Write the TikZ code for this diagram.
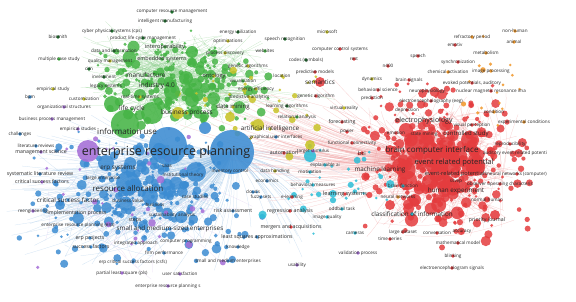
\documentclass[tikz,border=0pt]{standalone}
\usepackage{fontspec}
\setmainfont{Open Sans}
\definecolor{vgreen}{RGB}{70,180,70}
\definecolor{vdgreen}{RGB}{30,110,45}
\definecolor{vblue}{RGB}{60,140,210}
\definecolor{vred}{RGB}{228,60,62}
\definecolor{vpurple}{RGB}{165,110,215}
\definecolor{vyellow}{RGB}{200,195,40}
\definecolor{vcyan}{RGB}{45,190,215}
\definecolor{vorange}{RGB}{240,150,40}
\tikzset{
 bub/.style={circle, inner sep=0pt, fill opacity=0.88, draw=none},
 lab/.style={inner sep=0pt, text=black!85},
 gE/.style={draw=vgreen!60, line width=0.25pt, opacity=0.5},
 bE/.style={draw=vblue!55, line width=0.25pt, opacity=0.45},
 rE/.style={draw=vred!55, line width=0.25pt, opacity=0.45},
 pE/.style={draw=vpurple!50, line width=0.25pt, opacity=0.4},
}
% random bubbles: count, cx, cy, sx, sy, colour, extra radius
\newcommand\vbubbles[7]{%
 \foreach \k in {1,...,#1}{%
  \pgfmathsetmacro\qax{#2+(rand+rand)*#4/2}%
  \pgfmathsetmacro\qay{#3+(rand+rand)*#5/2}%
  \pgfmathsetmacro\qr{1.3+#7*rnd*rnd}%
  \fill[#6, fill opacity=0.85] (\qax,\qay) circle (\qr pt);
 }}
% random edges inside a cluster: count, cx, cy, sx, sy, style
\newcommand\vedges[6]{%
 \foreach \k in {1,...,#1}{%
  \pgfmathsetmacro\qax{#2+(rand+rand)*#4/2}%
  \pgfmathsetmacro\qay{#3+(rand+rand)*#5/2}%
  \pgfmathsetmacro\qbx{#2+(rand+rand)*#4/2}%
  \pgfmathsetmacro\qby{#3+(rand+rand)*#5/2}%
  \draw[#6] (\qax,\qay) to[bend left=12] (\qbx,\qby);
 }}
% rays from a hub: count, hub, cx, cy, sx, sy, style
\newcommand\vrays[7]{%
 \foreach \k in {1,...,#1}{%
  \pgfmathsetmacro\qbx{#3+(rand+rand)*#5/2}%
  \pgfmathsetmacro\qby{#4+(rand+rand)*#6/2}%
  \draw[#7] (#2) to[bend left=10] (\qbx,\qby);
 }}
\newcommand\vbub[5]{\node[bub, fill=#4, minimum size=#5pt] (#1) at (#2,#3) {};}
\newcommand\vlab[6]{%
 \fill[#5] (#2,#3) circle (1.8pt);
 \node[lab, font=\fontsize{#4}{#4}\selectfont] (#1) at (#2,#3) {#6};}
\begin{document}
\begin{tikzpicture}[x=1pt,y=-1pt]
\fill[white] (0,0) rectangle (576,302);
\useasboundingbox (0,0) rectangle (576,302);
\pgfmathsetseed{7}
% hubs
\coordinate (hB1) at (232,152);
\coordinate (hB2) at (168,146);
\coordinate (hG1) at (150,100);
\coordinate (hG2) at (185,75);
\coordinate (hR1) at (430,155);
\coordinate (hR2) at (446,165);
% edges
\vedges{260}{175}{78}{105}{55}{gE}
\vrays{60}{hG2}{160}{70}{100}{55}{gE}
\vrays{150}{hB1}{130}{200}{135}{80}{bE}
\vrays{110}{hB2}{110}{190}{115}{85}{bE}
\vrays{35}{hB1}{300}{200}{80}{60}{bE}
\vedges{90}{130}{200}{110}{70}{bE}
\vedges{40}{140}{210}{120}{80}{pE}
\vedges{320}{440}{165}{85}{75}{rE}
\vrays{80}{hR1}{290}{150}{90}{75}{rE}
\vrays{35}{hR2}{250}{130}{80}{50}{rE}
\vrays{25}{hG1}{260}{100}{80}{40}{gE}
\draw[rE] (hB1) to[bend left=25] (hR1);
\draw[rE] (hG1) to[bend left=20] (hR1);
\draw[bE] (hB2) to[bend right=10] (hG1);
% random bubbles
\vbubbles{190}{180}{80}{100}{52}{vgreen}{6}
\vbubbles{200}{140}{195}{125}{78}{vblue}{5.5}
\vbubbles{70}{150}{185}{70}{45}{vblue}{7}
\vbubbles{260}{445}{160}{95}{90}{vred}{5.5}
\vbubbles{130}{440}{165}{50}{50}{vred}{9}
\vbubbles{35}{130}{200}{120}{90}{vpurple}{3.5}
\vbubbles{30}{255}{100}{100}{60}{vyellow}{3.5}
\vbubbles{30}{330}{190}{80}{50}{vcyan}{3.5}
\vbubbles{16}{490}{80}{50}{60}{vorange}{2.5}
% large bubbles
\vbub{Bb1}{232}{152}{vblue}{44}
\vbub{Bb2}{168}{146}{vblue}{38}
\vbub{Bb3}{128}{183}{vblue}{24}
\vbub{Bb4}{196}{172}{vblue}{20}
\vbub{Bb5}{106}{163}{vblue}{16}
\vbub{Bb6}{150}{196}{vblue}{16}
\vbub{Bb7}{205}{128}{vblue}{12}
\vbub{Bb8}{60}{205}{vblue}{10}
\vbub{Gb1}{125}{124}{vgreen}{28}
\vbub{Gb2}{152}{113}{vgreen}{22}
\vbub{Gb3}{112}{104}{vgreen}{16}
\vbub{Gb4}{172}{92}{vgreen}{16}
\vbub{Gb5}{192}{100}{vgreen}{14}
\vbub{Gb6}{192}{52}{vgreen}{12}
\vbub{Gb7}{186}{78}{vgreen}{14}
\vbub{Gb8}{140}{95}{vgreen}{12}
\vbub{Gb9}{200}{70}{vgreen}{10}
\vbub{Pb1}{88}{151}{vpurple}{22}
\vbub{Yb1}{178}{113}{vyellow}{12}
\vbub{Yb2}{258}{125}{vyellow}{12}
\vbub{Yb3}{310}{145}{vyellow}{10}
\vbub{Yb4}{230}{117}{vyellow}{10}
\vbub{Cb1}{310}{156}{vcyan}{12}
\vbub{Rb1}{420}{145}{vred}{30}
\vbub{Rb2}{446}{160}{vred}{28}
\vbub{Rb3}{470}{140}{vred}{18}
\vbub{Rb4}{400}{166}{vred}{16}
\vbub{Rb5}{430}{182}{vred}{16}
\vbub{Rb6}{460}{186}{vred}{14}
\vbub{Rb7}{406}{130}{vred}{14}
\vbub{Rb8}{445}{125}{vred}{12}
\vbub{Rb9}{475}{160}{vred}{14}
\vbub{Rb10}{415}{200}{vred}{12}
\vbub{Rb11}{390}{150}{vred}{10}
\vbub{Rb12}{495}{215}{vred}{10}
\vbub{Rb13}{320}{82}{vred}{10}
\vbub{Rb14}{390}{205}{vred}{10}
% labels: green cluster
\vlab{g1}{172}{12}{4.6}{vdgreen}{computer resource management}
\vlab{g2}{165}{21}{4.6}{vdgreen}{intelligent manufacturing}
\vlab{g3}{58}{37}{4.6}{vdgreen}{biosmith}
\vlab{g4}{112}{31}{4.6}{vdgreen}{cyber physical systems (cps)}
\vlab{g5}{143}{38}{4.6}{vdgreen}{product life cycle management}
\vlab{g6}{165}{47}{5.6}{vgreen}{interoperability}
\vlab{g7}{114}{51}{4.6}{vdgreen}{data and information}
\vlab{g8}{59}{59}{4.6}{vgreen}{multiple case study}
\vlab{g9}{110}{61}{4.6}{vyellow}{quality management}
\vlab{g10}{162}{59}{5.4}{vgreen}{embedded systems}
\vlab{g11}{89}{69}{4.6}{vdgreen}{cim}
\vlab{g12}{146}{75}{6.5}{vgreen}{manufacture}
\vlab{g13}{104}{77}{4.6}{vdgreen}{investment}
\vlab{g14}{106}{86}{4.6}{vgreen}{legacy systems}
\vlab{g15}{157}{86}{6.5}{vgreen}{industry 4.0}
\vlab{g16}{53}{89}{4.6}{vyellow}{empirical study}
\vlab{g17}{30}{97}{4.6}{vblue}{bpm}
\vlab{g18}{84}{99}{4.6}{vyellow}{customization}
\vlab{g19}{140}{97}{4.6}{vyellow}{real-time systems}
\vlab{g20}{64}{107}{4.6}{vpurple}{organizational structures}
\vlab{g21}{132}{109}{6.5}{vgreen}{life cycle}
\vlab{g22}{187}{113}{6.5}{vyellow}{business process}
\vlab{g23}{52}{119}{4.6}{vpurple}{business process management}
\vlab{g24}{78}{129}{4.6}{vpurple}{empirical studies}
\vlab{g25}{127}{131}{8}{vgreen}{information use}
\vlab{g26}{20}{134}{4.6}{vblue}{challenges}
\vlab{g27}{36}{146}{4.6}{vblue}{literature reviews}
\vlab{g28}{41}{152}{5.2}{vpurple}{management science}
\node[lab, font=\fontsize{12.5}{12.5}\selectfont] (erp) at (166,152) {enterprise resource planning};
% blue cluster
\vlab{b1}{40}{174}{5.2}{vblue}{systematic literature review}
\vlab{b2}{118}{168}{6.3}{vblue}{erp systems}
\vlab{b3}{42}{182}{5.2}{vpurple}{critical success factors}
\vlab{b4}{103}{178}{4.6}{vblue}{large enterprise}
\vlab{b5}{128}{189}{8}{vblue}{resource allocation}
\vlab{b6}{167}{166}{4.6}{vblue}{saas}
\vlab{b7}{183}{175}{4.6}{vblue}{institutional theory}
\vlab{b8}{230}{171}{4.6}{vblue}{inventory control}
\vlab{b9}{275}{171}{4.6}{vyellow}{data handling}
\vlab{b10}{267}{181}{4.6}{vblue}{economics}
\vlab{b11}{253}{192}{4.6}{vblue}{clouds}
\vlab{b12}{195}{197}{4.6}{vblue}{case studies}
\vlab{b13}{261}{197}{4.6}{vblue}{fuzzy sets}
\vlab{b14}{292}{197}{4.6}{vred}{e-learning}
\vlab{b15}{128}{201}{4.6}{vblue}{business value}
\vlab{b16}{155}{205}{4.6}{vblue}{business}
\vlab{b17}{68}{200}{6.3}{vblue}{critical success factor}
\vlab{b18}{33}{211}{4.6}{vpurple}{reengineering}
\vlab{b19}{77}{213}{5.2}{vblue}{implementation process}
\vlab{b20}{172}{215}{4.6}{vblue}{sustainability analysis}
\vlab{b21}{233}{211}{5.2}{vblue}{risk assessment}
\vlab{b22}{290}{211}{5.2}{vred}{regression analysis}
\vlab{b23}{342}{209}{4.6}{vcyan}{oddball task}
\vlab{b24}{327}{217}{4.6}{vcyan}{image quality}
\vlab{b25}{135}{220}{5.2}{vblue}{steps}
\vlab{b26}{78}{225}{4.6}{vblue}{enterprise resource planning (erp)}
\vlab{b27}{170}{229}{6.3}{vblue}{small and medium-sized enterprises}
\vlab{b28}{291}{227}{5.2}{vred}{mergers and acquisitions}
\vlab{b29}{355}{233}{4.6}{vcyan}{cameras}
\vlab{b30}{90}{238}{5.2}{vblue}{erp projects}
\vlab{b31}{257}{237}{5.2}{vblue}{least squares approximations}
\vlab{b32}{186}{241}{4.6}{vblue}{computer programming}
\vlab{b33}{91}{247}{5.2}{vblue}{success factors}
\vlab{b34}{136}{243}{4.6}{vblue}{integrated approach}
\vlab{b35}{238}{247}{4.6}{vblue}{knowledge}
\vlab{b36}{164}{253}{4.6}{vblue}{firm performance}
\vlab{b37}{358}{253}{4.6}{vpurple}{validation process}
\vlab{b38}{228}{261}{4.6}{vblue}{small and medium enterprises}
\vlab{b39}{133}{262}{4.6}{vblue}{erp critical success factors (csfs)}
\vlab{b40}{297}{265}{4.6}{vpurple}{usability}
\vlab{b41}{122}{273}{4.6}{vpurple}{partial least square (pls)}
\vlab{b42}{180}{274}{4.6}{vpurple}{user satisfaction}
\vlab{b43}{168}{286}{4.6}{vpurple}{enterprise resource planning s}
% middle
\vlab{y1}{238}{32}{4.6}{vdgreen}{energy utilization}
\vlab{y2}{228}{41}{4.6}{vyellow}{optimizations}
\vlab{y3}{285}{39}{4.6}{vdgreen}{speech recognition}
\vlab{y4}{327}{32}{4.6}{vyellow}{microsoft}
\vlab{y5}{225}{53}{4.6}{vyellow}{process discovery}
\vlab{y6}{265}{51}{4.6}{vgreen}{websites}
\vlab{y7}{340}{49}{4.6}{vred}{computer control systems}
\vlab{y8}{306}{60}{4.6}{vdgreen}{codes (symbols)}
\vlab{y9}{354}{59}{4.6}{vred}{rest}
\vlab{y10}{248}{66}{4.6}{vyellow}{genetic algorithms}
\vlab{y11}{214}{76}{5.6}{vyellow}{ontology}
\vlab{y12}{315}{72}{4.6}{vred}{predictive models}
\vlab{y13}{282}{76}{4.6}{vyellow}{location}
\vlab{y14}{243}{81}{4.6}{vgreen}{visualization}
\vlab{y15}{320}{82}{6.3}{vred}{semantics}
\vlab{y16}{372}{79}{4.6}{vyellow}{dynamics}
\vlab{y17}{256}{89}{4.6}{vyellow}{energy efficiency}
\vlab{y18}{316}{96}{4.6}{vred}{genetic algorithm}
\vlab{y19}{378}{90}{4.6}{vred}{behavioral science}
\vlab{y20}{249}{97}{4.6}{vyellow}{predictive analytics}
\vlab{y21}{372}{98}{4.6}{vred}{prediction}
\vlab{y22}{233}{107}{6}{vyellow}{data mining}
\vlab{y23}{287}{106}{4.6}{vdgreen}{learning algorithms}
\vlab{y24}{344}{108}{4.6}{vyellow}{virtual reality}
\vlab{y25}{297}{117}{4.6}{vgreen}{relational analysis}
\vlab{y26}{342}{122}{5.2}{vred}{forecasting}
\vlab{y27}{347}{132}{4.6}{vred}{power}
\vlab{y28}{270}{129}{6.3}{vyellow}{artificial intelligence}
\vlab{y29}{276}{137}{4.6}{vblue}{graphical user interfaces}
\vlab{y30}{352}{143}{4.6}{vred}{functional connectivity}
\vlab{y31}{313}{151}{4.6}{vpurple}{target stimulus}
\vlab{y32}{284}{153}{5.2}{vred}{automation}
\vlab{y33}{325}{165}{4.6}{vcyan}{explainable ai}
\vlab{y34}{310}{172}{4.6}{vcyan}{motivation}
\vlab{y35}{313}{185}{4.6}{vcyan}{behavioral measures}
\vlab{y36}{345}{194}{5.6}{vred}{learning systems}
% red / orange
\vlab{r1}{388}{66}{4.6}{vred}{n400}
\vlab{r2}{418}{56}{4.6}{vred}{speech}
\vlab{r3}{455}{45}{4.6}{vred}{emotiv}
\vlab{r4}{472}{37}{4.6}{vorange}{refractory period}
\vlab{r5}{515}{31}{4.6}{vorange}{non-human}
\vlab{r6}{514}{42}{4.6}{vorange}{animal}
\vlab{r7}{486}{53}{4.6}{vorange}{metabolism}
\vlab{r8}{458}{62}{4.6}{vred}{synchronization}
\vlab{r9}{448}{72}{4.6}{vorange}{chemical activation}
\vlab{r10}{491}{71}{4.6}{vorange}{image processing}
\vlab{r11}{409}{80}{4.6}{vred}{brain signals}
\vlab{r12}{472}{83}{4.6}{vred}{evoked potentials, auditory}
\vlab{r13}{427}{91}{4.6}{vred}{neurophysiology}
\vlab{r14}{491}{91}{4.6}{vred}{nuclear magnetic resonance ima}
\vlab{r15}{431}{101}{4.6}{vred}{electroencephalography (eeg)}
\vlab{r16}{494}{112}{4.6}{vorange}{condition}
\vlab{r17}{524}{122}{4.6}{vorange}{experimental conditions}
\vlab{r18}{407}{110}{4.6}{vred}{depression}
\vlab{r19}{424}{121}{7}{vred}{electrophysiology}
\vlab{r20}{472}{125}{4.6}{vred}{visual perception}
\vlab{r21}{396}{133}{4.6}{vred}{emotion}
\vlab{r22}{424}{134}{4.6}{vred}{state mining}
\vlab{r23}{466}{134}{6}{vred}{controlled study}
\vlab{r24}{510}{144}{4.6}{vred}{reproducibility}
\vlab{r25}{432}{150}{8}{vred}{brain computer interface}
\vlab{r26}{515}{153}{4.6}{vred}{auditory event related potenti}
\vlab{r27}{454}{163}{7.5}{vred}{event related potential}
\vlab{r28}{380}{170}{6.3}{vred}{machine learning}
\vlab{r29}{456}{174}{5.6}{vred}{event-related potentials}
\vlab{r30}{517}{174}{4.6}{vred}{neural networks (computer)}
\vlab{r31}{362}{153}{5.6}{vred}{bci}
\vlab{r32}{456}{182}{4.6}{vred}{ssvep}
\vlab{r33}{500}{184}{4.6}{vred}{observer operating characteris}
\vlab{r34}{403}{186}{4.6}{vcyan}{brain function}
\vlab{r35}{456}{191}{6.3}{vred}{human experiment}
\vlab{r36}{398}{197}{4.6}{vorange}{neural networks}
\vlab{r37}{487}{200}{4.6}{vred}{normal human}
\vlab{r38}{412}{214}{6.3}{vcyan}{classification of information}
\vlab{r39}{487}{220}{5.2}{vred}{priority journal}
\vlab{r40}{403}{232}{4.6}{vred}{large dataset}
\vlab{r41}{437}{233}{4.6}{vred}{conversation}
\vlab{r42}{462}{232}{4.6}{vred}{accuracy}
\vlab{r43}{390}{239}{4.6}{vred}{time series}
\vlab{r44}{458}{243}{4.6}{vred}{mathematical model}
\vlab{r45}{453}{256}{4.6}{vred}{blinking}
\vlab{r46}{452}{268}{4.6}{vred}{electroencephalogram signals}
\end{tikzpicture}
\end{document}
